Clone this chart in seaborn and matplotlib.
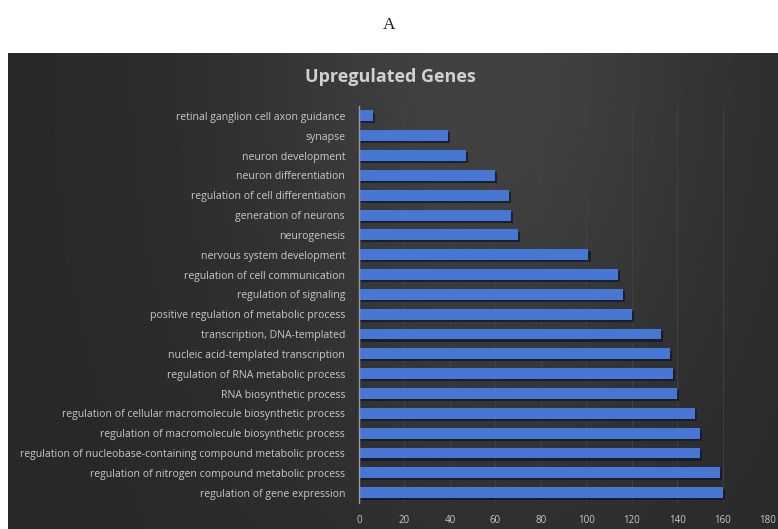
import numpy as np
import pandas as pd
import matplotlib
matplotlib.use('Agg')
import matplotlib.pyplot as plt
import matplotlib.patheffects as pe
import seaborn as sns

# GO terms (top to bottom) and gene counts
terms = [
    'retinal ganglion cell axon guidance',
    'synapse',
    'neuron development',
    'neuron differentiation',
    'regulation of cell differentiation',
    'generation of neurons',
    'neurogenesis',
    'nervous system development',
    'regulation of cell communication',
    'regulation of signaling',
    'positive regulation of metabolic process',
    'transcription, DNA-templated',
    'nucleic acid-templated transcription',
    'regulation of RNA metabolic process',
    'RNA biosynthetic process',
    'regulation of cellular macromolecule biosynthetic process',
    'regulation of macromolecule biosynthetic process',
    'regulation of nucleobase-containing compound metabolic process',
    'regulation of nitrogen compound metabolic process',
    'regulation of gene expression',
]
counts = [6, 39, 47, 60, 66, 67, 70, 101, 114, 116,
          120, 133, 137, 138, 140, 148, 150, 150, 159, 160]
x_ticks = [0, 20, 40, 60, 80, 100, 120, 140, 160, 180]

df = pd.DataFrame({'term': terms, 'count': counts})

sns.set_style('dark')
plt.rcParams['font.family'] = ['Open Sans', 'DejaVu Sans']

fig = plt.figure(figsize=(7.78, 5.29), dpi=100)
fig.patch.set_facecolor('white')

# panel letter
fig.text(0.5, 1 - 25 / 529, 'A', ha='center', va='center', fontsize=12.5,
         family='Liberation Serif', color='#222222')

# dark gradient panel behind the chart
bg = fig.add_axes([8 / 778, 0, 1 - 8 / 778, (529 - 53) / 529])
gx = np.linspace(0, 1, 300)
gy = np.linspace(0, 1, 200)
X, Y = np.meshgrid(gx, gy)
shade = 0.16 + 0.10 * np.exp(-((X - 0.62) ** 2) / 0.10 - (Y ** 2) / 0.8)
bg.imshow(shade, cmap='gray', vmin=0, vmax=1, aspect='auto',
          extent=[0, 1, 0, 1], origin='upper')
bg.set_axis_off()

fig.text(390 / 778, 1 - 77 / 529, 'Upregulated Genes', ha='center', va='center',
         fontsize=13, fontweight='bold', color='#d0d0d0')

ax = fig.add_axes([359 / 778, 1 - 502.6 / 529, 409 / 778, 396.6 / 529])
ax.patch.set_alpha(0)
sns.barplot(data=df, x='count', y='term', orient='h', color='#4677d4',
            saturation=1, width=0.55, linewidth=0, ax=ax)
for bar in ax.patches:
    bar.set_path_effects([pe.SimplePatchShadow(offset=(1.5, -1.5),
                                               shadow_rgbFace='#14182a',
                                               alpha=0.8),
                          pe.Normal()])

ax.set_xlim(0, 180)
ax.set_xticks(x_ticks)
ax.set_xlabel('')
ax.set_ylabel('')
ax.grid(axis='x', color='#434343', linewidth=0.6)
ax.grid(axis='y', visible=False)
ax.set_axisbelow(True)
for s in ['top', 'right', 'bottom']:
    ax.spines[s].set_visible(False)
ax.spines['left'].set_visible(True)
ax.spines['left'].set_color('#9a9a9a')
ax.spines['left'].set_linewidth(1.0)
ax.tick_params(axis='y', labelsize=7.6, labelcolor='#c8c8c8', length=0, pad=10)
ax.tick_params(axis='x', labelsize=7.0, labelcolor='#c8c8c8', length=0, pad=9)

fig.savefig('out.png', dpi=100)
